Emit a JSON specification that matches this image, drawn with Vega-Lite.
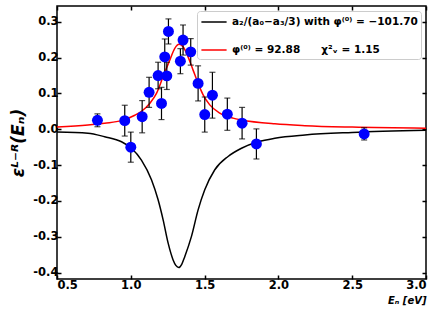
{
  "$schema": "https://vega.github.io/schema/vega-lite/v6.json",
  "width": 369,
  "height": 273,
  "autosize": "none",
  "padding": {"left": 57, "top": 6, "right": 17, "bottom": 36},
  "background": "white",
  "config": {
    "view": {"stroke": "black", "strokeWidth": 1.5},
    "font": "DejaVu Sans",
    "axis": {
      "labelFont": "DejaVu Sans", "labelFontWeight": "bold", "labelFontSize": 11.5, "labelColor": "black",
      "tickColor": "black", "tickWidth": 1.5, "tickSize": -4, "domain": false, "grid": false,
      "titleFont": "DejaVu Sans", "titleColor": "black"
    },
    "legend": {
      "orient": "top-right", "offset": 5, "padding": 3, "strokeColor": "#cccccc", "fillColor": "white", "cornerRadius": 3,
      "labelFont": "DejaVu Sans", "labelFontWeight": "bold", "labelFontSize": 10.5, "labelColor": "black", "labelLimit": 400,
      "symbolType": "M-1.8,0H1.8", "symbolSize": 196, "symbolStrokeWidth": 1.5, "symbolFillColor": "transparent",
      "symbolOffset": 6, "labelOffset": 10, "rowPadding": 14, "title": null
    }
  },
  "datasets": {
    "curves": [
      {"x": 0.5, "y": -0.008, "s": "a₂/(a₀−a₃/3) with φ⁽⁰⁾ = −101.70"},
      {"x": 0.71, "y": -0.011, "s": "a₂/(a₀−a₃/3) with φ⁽⁰⁾ = −101.70"},
      {"x": 0.823, "y": -0.021, "s": "a₂/(a₀−a₃/3) with φ⁽⁰⁾ = −101.70"},
      {"x": 0.937, "y": -0.035, "s": "a₂/(a₀−a₃/3) with φ⁽⁰⁾ = −101.70"},
      {"x": 1.004, "y": -0.053, "s": "a₂/(a₀−a₃/3) with φ⁽⁰⁾ = −101.70"},
      {"x": 1.072, "y": -0.086, "s": "a₂/(a₀−a₃/3) with φ⁽⁰⁾ = −101.70"},
      {"x": 1.14, "y": -0.141, "s": "a₂/(a₀−a₃/3) with φ⁽⁰⁾ = −101.70"},
      {"x": 1.185, "y": -0.197, "s": "a₂/(a₀−a₃/3) with φ⁽⁰⁾ = −101.70"},
      {"x": 1.219, "y": -0.253, "s": "a₂/(a₀−a₃/3) with φ⁽⁰⁾ = −101.70"},
      {"x": 1.253, "y": -0.318, "s": "a₂/(a₀−a₃/3) with φ⁽⁰⁾ = −101.70"},
      {"x": 1.286, "y": -0.364, "s": "a₂/(a₀−a₃/3) with φ⁽⁰⁾ = −101.70"},
      {"x": 1.305, "y": -0.380, "s": "a₂/(a₀−a₃/3) with φ⁽⁰⁾ = −101.70"},
      {"x": 1.325, "y": -0.386, "s": "a₂/(a₀−a₃/3) with φ⁽⁰⁾ = −101.70"},
      {"x": 1.345, "y": -0.377, "s": "a₂/(a₀−a₃/3) with φ⁽⁰⁾ = −101.70"},
      {"x": 1.366, "y": -0.355, "s": "a₂/(a₀−a₃/3) with φ⁽⁰⁾ = −101.70"},
      {"x": 1.411, "y": -0.299, "s": "a₂/(a₀−a₃/3) with φ⁽⁰⁾ = −101.70"},
      {"x": 1.456, "y": -0.225, "s": "a₂/(a₀−a₃/3) with φ⁽⁰⁾ = −101.70"},
      {"x": 1.501, "y": -0.169, "s": "a₂/(a₀−a₃/3) with φ⁽⁰⁾ = −101.70"},
      {"x": 1.569, "y": -0.113, "s": "a₂/(a₀−a₃/3) with φ⁽⁰⁾ = −101.70"},
      {"x": 1.659, "y": -0.076, "s": "a₂/(a₀−a₃/3) with φ⁽⁰⁾ = −101.70"},
      {"x": 1.75, "y": -0.053, "s": "a₂/(a₀−a₃/3) with φ⁽⁰⁾ = −101.70"},
      {"x": 1.863, "y": -0.035, "s": "a₂/(a₀−a₃/3) with φ⁽⁰⁾ = −101.70"},
      {"x": 1.976, "y": -0.025, "s": "a₂/(a₀−a₃/3) with φ⁽⁰⁾ = −101.70"},
      {"x": 2.18, "y": -0.016, "s": "a₂/(a₀−a₃/3) with φ⁽⁰⁾ = −101.70"},
      {"x": 2.5, "y": -0.009, "s": "a₂/(a₀−a₃/3) with φ⁽⁰⁾ = −101.70"},
      {"x": 3.0, "y": -0.003, "s": "a₂/(a₀−a₃/3) with φ⁽⁰⁾ = −101.70"},
      {"x": 0.5, "y": 0.006, "s": "φ⁽⁰⁾ = 92.88\u2003\u2003χ²ᵥ = 1.15"},
      {"x": 0.71, "y": 0.012, "s": "φ⁽⁰⁾ = 92.88\u2003\u2003χ²ᵥ = 1.15"},
      {"x": 0.823, "y": 0.017, "s": "φ⁽⁰⁾ = 92.88\u2003\u2003χ²ᵥ = 1.15"},
      {"x": 0.937, "y": 0.024, "s": "φ⁽⁰⁾ = 92.88\u2003\u2003χ²ᵥ = 1.15"},
      {"x": 1.027, "y": 0.039, "s": "φ⁽⁰⁾ = 92.88\u2003\u2003χ²ᵥ = 1.15"},
      {"x": 1.075, "y": 0.051, "s": "φ⁽⁰⁾ = 92.88\u2003\u2003χ²ᵥ = 1.15"},
      {"x": 1.128, "y": 0.072, "s": "φ⁽⁰⁾ = 92.88\u2003\u2003χ²ᵥ = 1.15"},
      {"x": 1.174, "y": 0.100, "s": "φ⁽⁰⁾ = 92.88\u2003\u2003χ²ᵥ = 1.15"},
      {"x": 1.219, "y": 0.147, "s": "φ⁽⁰⁾ = 92.88\u2003\u2003χ²ᵥ = 1.15"},
      {"x": 1.264, "y": 0.193, "s": "φ⁽⁰⁾ = 92.88\u2003\u2003χ²ᵥ = 1.15"},
      {"x": 1.298, "y": 0.226, "s": "φ⁽⁰⁾ = 92.88\u2003\u2003χ²ᵥ = 1.15"},
      {"x": 1.327, "y": 0.237, "s": "φ⁽⁰⁾ = 92.88\u2003\u2003χ²ᵥ = 1.15"},
      {"x": 1.354, "y": 0.230, "s": "φ⁽⁰⁾ = 92.88\u2003\u2003χ²ᵥ = 1.15"},
      {"x": 1.388, "y": 0.202, "s": "φ⁽⁰⁾ = 92.88\u2003\u2003χ²ᵥ = 1.15"},
      {"x": 1.422, "y": 0.165, "s": "φ⁽⁰⁾ = 92.88\u2003\u2003χ²ᵥ = 1.15"},
      {"x": 1.456, "y": 0.128, "s": "φ⁽⁰⁾ = 92.88\u2003\u2003χ²ᵥ = 1.15"},
      {"x": 1.49, "y": 0.096, "s": "φ⁽⁰⁾ = 92.88\u2003\u2003χ²ᵥ = 1.15"},
      {"x": 1.535, "y": 0.068, "s": "φ⁽⁰⁾ = 92.88\u2003\u2003χ²ᵥ = 1.15"},
      {"x": 1.603, "y": 0.045, "s": "φ⁽⁰⁾ = 92.88\u2003\u2003χ²ᵥ = 1.15"},
      {"x": 1.693, "y": 0.031, "s": "φ⁽⁰⁾ = 92.88\u2003\u2003χ²ᵥ = 1.15"},
      {"x": 1.75, "y": 0.026, "s": "φ⁽⁰⁾ = 92.88\u2003\u2003χ²ᵥ = 1.15"},
      {"x": 1.976, "y": 0.015, "s": "φ⁽⁰⁾ = 92.88\u2003\u2003χ²ᵥ = 1.15"},
      {"x": 2.18, "y": 0.010, "s": "φ⁽⁰⁾ = 92.88\u2003\u2003χ²ᵥ = 1.15"},
      {"x": 2.5, "y": 0.006, "s": "φ⁽⁰⁾ = 92.88\u2003\u2003χ²ᵥ = 1.15"},
      {"x": 3.0, "y": 0.003, "s": "φ⁽⁰⁾ = 92.88\u2003\u2003χ²ᵥ = 1.15"}
    ],
    "points": [
      {"x": 0.774, "y": 0.025, "err": 0.018},
      {"x": 0.959, "y": 0.024, "err": 0.043},
      {"x": 1.000, "y": -0.050, "err": 0.042},
      {"x": 1.077, "y": 0.035, "err": 0.045},
      {"x": 1.124, "y": 0.103, "err": 0.042},
      {"x": 1.185, "y": 0.150, "err": 0.037},
      {"x": 1.208, "y": 0.072, "err": 0.045},
      {"x": 1.230, "y": 0.202, "err": 0.05},
      {"x": 1.244, "y": 0.149, "err": 0.038},
      {"x": 1.255, "y": 0.273, "err": 0.035},
      {"x": 1.336, "y": 0.190, "err": 0.035},
      {"x": 1.354, "y": 0.249, "err": 0.042},
      {"x": 1.406, "y": 0.216, "err": 0.037},
      {"x": 1.456, "y": 0.128, "err": 0.049},
      {"x": 1.501, "y": 0.041, "err": 0.049},
      {"x": 1.553, "y": 0.095, "err": 0.064},
      {"x": 1.654, "y": 0.042, "err": 0.045},
      {"x": 1.754, "y": 0.017, "err": 0.044},
      {"x": 1.851, "y": -0.041, "err": 0.042},
      {"x": 2.581, "y": -0.013, "err": 0.017}
    ]
  },
  "layer": [
    {
      "data": {"name": "curves"},
      "mark": {"type": "line", "strokeWidth": 1.5, "interpolate": "monotone", "clip": true},
      "encoding": {
        "x": {"field": "x", "type": "quantitative", "scale": {"domain": [0.5, 3.0], "nice": false, "zero": false},
          "axis": {"values": [0.5, 1.0, 1.5, 2.0, 2.5, 3.0], "format": ".1f", "labelPadding": 4, "title": "Eₙ [eV]",
            "titleAnchor": "end", "titleFontSize": 10, "titleFontWeight": "bold", "titleFontStyle": "italic", "titlePadding": 5}},
        "y": {"field": "y", "type": "quantitative", "scale": {"domain": [-0.418, 0.344], "nice": false, "zero": false},
          "axis": {"values": [-0.4, -0.3, -0.2, -0.1, 0.0, 0.1, 0.2, 0.3],
            "labelExpr": "replace(format(datum.value, '.1f'), '−', '-')", "labelPadding": 3,
            "title": "εᴸ⁻ᴿ(Eₙ)", "titleFontSize": 17, "titleFontWeight": "bold", "titleFontStyle": "italic", "titlePadding": 5}},
        "color": {"field": "s", "type": "nominal",
          "scale": {"domain": ["a₂/(a₀−a₃/3) with φ⁽⁰⁾ = −101.70", "φ⁽⁰⁾ = 92.88\u2003\u2003χ²ᵥ = 1.15"], "range": ["black", "red"]}}
      }
    },
    {
      "data": {"name": "points"},
      "mark": {"type": "errorbar", "ticks": {"size": 6, "color": "black", "thickness": 1.2}, "color": "black", "thickness": 1.2},
      "encoding": {
        "x": {"field": "x", "type": "quantitative", "axis": null},
        "y": {"field": "y", "type": "quantitative", "axis": null},
        "yError": {"field": "err"}
      }
    },
    {
      "data": {"name": "points"},
      "mark": {"type": "point", "filled": true, "color": "#0000ff", "opacity": 1, "size": 120},
      "encoding": {
        "x": {"field": "x", "type": "quantitative", "axis": {"orient": "top", "values": [0.5, 1.0, 1.5, 2.0, 2.5, 3.0], "labels": false, "title": null}},
        "y": {"field": "y", "type": "quantitative", "axis": {"orient": "right", "values": [-0.4, -0.3, -0.2, -0.1, 0.0, 0.1, 0.2, 0.3], "labels": false, "title": null}}
      }
    }
  ],
  "resolve": {"axis": {"x": "independent", "y": "independent"}}
}
